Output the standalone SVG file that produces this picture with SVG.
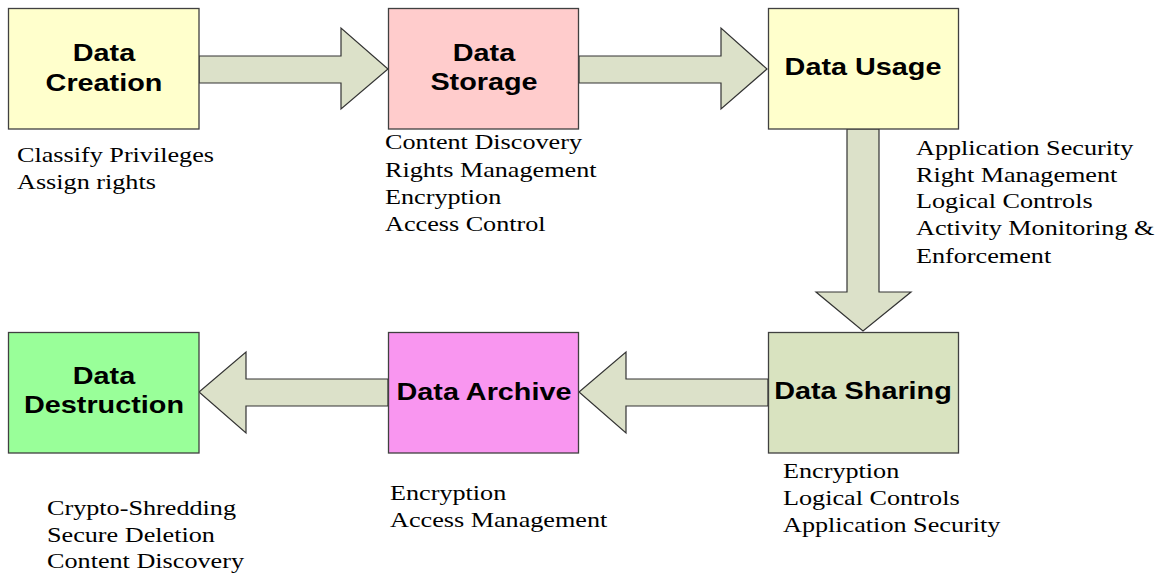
<svg xmlns="http://www.w3.org/2000/svg" width="1160" height="576" viewBox="0 0 1160 576">
<style>
.box{stroke:#404040;stroke-width:1.3}
.arr{fill:#DCE1C9;stroke:#333;stroke-width:1.2;stroke-linejoin:miter}
.t{font-family:"Liberation Sans",Arial,sans-serif;font-weight:bold;font-size:24px;fill:#000;text-anchor:middle}
.n{font-family:"Liberation Serif","Times New Roman",serif;font-size:22px;fill:#000}
</style>
<rect width="1160" height="576" fill="#fff"/>
<g id="connectors">
<polygon class="arr" points="199,56 341,56 341,28 388,69 341,109 341,83 199,83"/>
<polygon class="arr" points="579,56 721,56 721,28 767,69 721,109 721,83 579,83"/>
<polygon class="arr" points="847,129 879,129 879,292 911,292 863,331 816,292 847,292"/>
<polygon class="arr" points="768,379 626,379 626,352 579,392 626,433 626,406 768,406"/>
<polygon class="arr" points="388,379 246,379 246,352 199,392 246,433 246,406 388,406"/>
</g>
<g id="creation">
<rect class="box" x="8.5" y="8.5" width="190.5" height="120.5" fill="#FFFFCC"/>
<text class="t" transform="translate(104,0) scale(1.2,1)"><tspan x="0" y="61">Data</tspan><tspan x="0" y="91">Creation</tspan></text>
<text class="n" transform="translate(17,0) scale(1.19,1)"><tspan x="0" y="162">Classify Privileges</tspan><tspan x="0" y="189">Assign rights</tspan></text>
</g>
<g id="storage">
<rect class="box" x="388.5" y="8.5" width="190" height="120.5" fill="#FFCCCC"/>
<text class="t" transform="translate(484,0) scale(1.2,1)"><tspan x="0" y="61">Data</tspan><tspan x="0" y="90">Storage</tspan></text>
<text class="n" transform="translate(385,0) scale(1.19,1)"><tspan x="0" y="149">Content Discovery</tspan><tspan x="0" y="177">Rights Management</tspan><tspan x="0" y="204">Encryption</tspan><tspan x="0" y="231">Access Control</tspan></text>
</g>
<g id="usage">
<rect class="box" x="768.5" y="8.5" width="190" height="120.5" fill="#FFFFCC"/>
<text class="t" transform="translate(863,0) scale(1.2,1)" x="0" y="75">Data Usage</text>
<text class="n" transform="translate(916,0) scale(1.19,1)"><tspan x="0" y="155">Application Security</tspan><tspan x="0" y="182">Right Management</tspan><tspan x="0" y="208">Logical Controls</tspan><tspan x="0" y="235">Activity Monitoring &amp;</tspan><tspan x="0" y="263">Enforcement</tspan></text>
</g>
<g id="sharing">
<rect class="box" x="768.5" y="332.5" width="190" height="120.5" fill="#D9E3C0"/>
<text class="t" transform="translate(863,0) scale(1.2,1)" x="0" y="399">Data Sharing</text>
<text class="n" transform="translate(783,0) scale(1.19,1)"><tspan x="0" y="478">Encryption</tspan><tspan x="0" y="505">Logical Controls</tspan><tspan x="0" y="532">Application Security</tspan></text>
</g>
<g id="archive">
<rect class="box" x="388.5" y="332.5" width="190" height="120.5" fill="#F996F0"/>
<text class="t" transform="translate(484,0) scale(1.2,1)" x="0" y="400">Data Archive</text>
<text class="n" transform="translate(390,0) scale(1.19,1)"><tspan x="0" y="500">Encryption</tspan><tspan x="0" y="527">Access Management</tspan></text>
</g>
<g id="destruction">
<rect class="box" x="8.5" y="332.5" width="190.5" height="120.5" fill="#99FF99"/>
<text class="t" transform="translate(104,0) scale(1.2,1)"><tspan x="0" y="384">Data</tspan><tspan x="0" y="413">Destruction</tspan></text>
<text class="n" transform="translate(47,0) scale(1.19,1)"><tspan x="0" y="515">Crypto-Shredding</tspan><tspan x="0" y="542">Secure Deletion</tspan><tspan x="0" y="568">Content Discovery</tspan></text>
</g>
</svg>
